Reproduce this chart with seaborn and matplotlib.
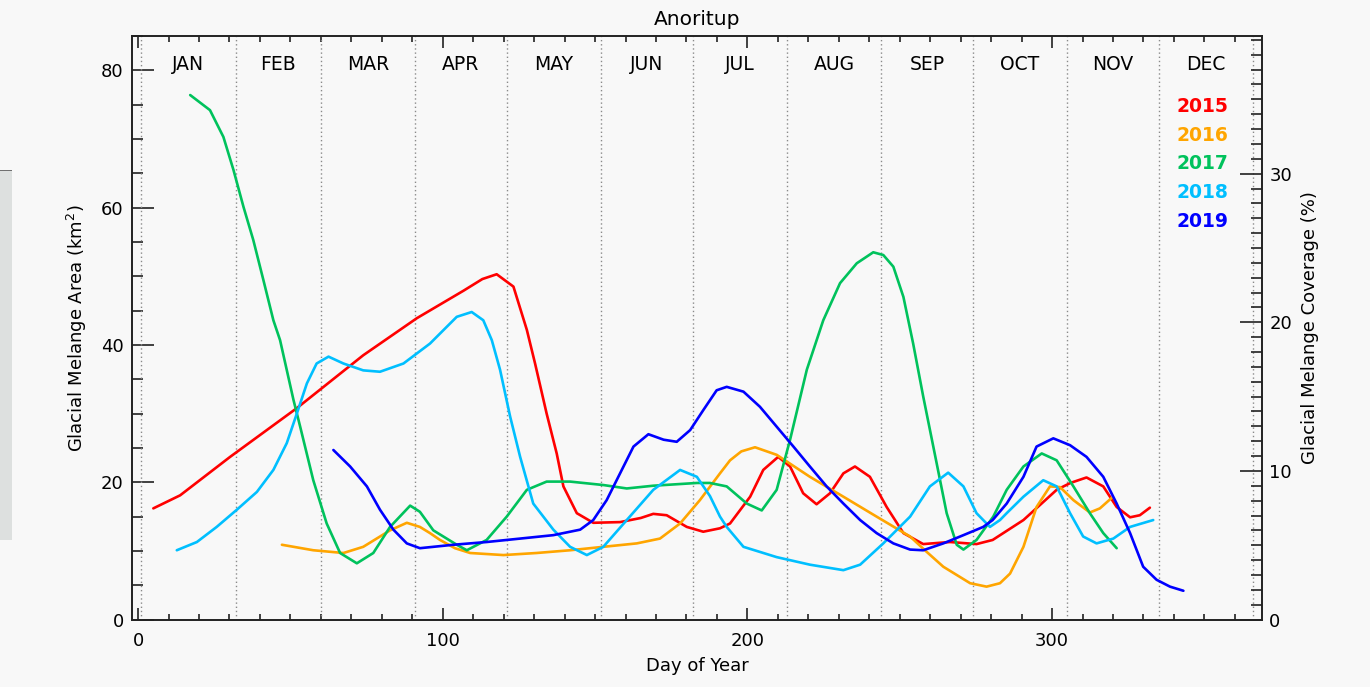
import numpy as np
import pandas as pd
import matplotlib
matplotlib.use("Agg")
import matplotlib.pyplot as plt
import seaborn as sns
from matplotlib.patches import Rectangle
from matplotlib.ticker import MultipleLocator

# ---------------- data ----------------
days_2015 = [5, 13.8, 30.2, 52.1, 73.9, 91.5, 106.8, 113, 117.7, 123.2, 127.6, 130.3, 134.1, 137.4, 139.6,
             144, 149.4, 158.2, 165, 169.1, 173.5, 180.1, 185.5, 191, 194.3, 200.9, 205.2, 210.1, 214,
             218.3, 222.7, 227.1, 231.5, 235.3, 240.2, 245.7, 251.2, 257.7, 266.5, 275.2, 280.5, 290.6,
             301.5, 306, 311.3, 316.8, 321.2, 325.6, 328.8, 332.1]
area_2015 = [16.2, 18.1, 23.7, 30.8, 38.5, 43.9, 47.9, 49.6, 50.3, 48.5, 42.2, 37.3, 30.0, 24.2, 19.4,
             15.5, 14.1, 14.2, 14.8, 15.4, 15.2, 13.5, 12.8, 13.3, 14.0, 17.9, 21.8, 23.7, 22.3,
             18.4, 16.8, 18.4, 21.3, 22.3, 20.8, 16.4, 12.6, 11.0, 11.3, 11.0, 11.6, 14.5,
             18.9, 19.9, 20.7, 19.4, 16.4, 14.9, 15.2, 16.3]

days_2016 = [47.2, 57.5, 67.4, 73.9, 82.7, 88.2, 92.5, 95.8, 99.1, 104, 109, 119.9, 130.8, 141.8, 152.7,
             163.7, 171.3, 177.9, 184.4, 191, 194.3, 198, 202.5, 209.6, 220.5, 231.5, 242.4, 253.4,
             258.5, 264.3, 273.1, 278.5, 282.9, 286.2, 290.6, 294.9, 299.3, 302.6, 307, 312.4, 315.7, 319.5]
area_2016 = [10.9, 10.1, 9.7, 10.6, 13.0, 14.1, 13.5, 12.6, 11.6, 10.4, 9.7, 9.4, 9.7, 10.1, 10.6,
             11.1, 11.8, 14.0, 17.4, 21.3, 23.2, 24.5, 25.1, 24.0, 20.8, 17.9, 15.0, 12.1,
             10.0, 7.7, 5.3, 4.8, 5.3, 6.7, 10.6, 16.4, 19.4, 19.3, 17.4, 15.6, 16.2, 17.7]

days_2017 = [17.1, 23.6, 28, 31.3, 34.6, 37.8, 41.1, 44.4, 46.6, 51, 53.2, 57.5, 61.9, 66.3, 71.8, 77.2,
             82.7, 89.3, 92.5, 96.9, 104.6, 107.9, 114.4, 121, 127.6, 134.1, 141.8, 152.7, 160.4, 169.1,
             183.4, 187.7, 193.2, 199.8, 204.7, 209.6, 214, 219.5, 224.9, 230.4, 235.9, 241.3, 244.6,
             247.9, 251.2, 254.4, 257.7, 262.1, 265.4, 268.7, 270.9, 275.2, 280.7, 285.1, 290.6, 296.6,
             301.5, 307, 312.4, 316.8, 321.2]
area_2017 = [76.4, 74.2, 70.3, 65.5, 60.1, 55.3, 49.5, 43.6, 40.7, 32.0, 28.1, 20.3, 14.0, 9.7, 8.2, 9.7,
             13.5, 16.6, 15.7, 13.0, 10.9, 10.1, 11.6, 15.0, 18.9, 20.1, 20.1, 19.6, 19.1, 19.5,
             19.9, 19.9, 19.4, 16.9, 15.9, 18.9, 26.2, 36.4, 43.6, 49.0, 51.9, 53.5, 53.1,
             51.4, 47.0, 40.2, 32.5, 22.8, 15.5, 10.9, 10.2, 11.6, 15.0, 18.9, 22.3, 24.2,
             23.2, 19.4, 15.5, 12.6, 10.4]

days_2018 = [12.7, 19.3, 25.8, 32.4, 39, 44.4, 48.8, 52.1, 55.4, 58.6, 62.5, 67.4, 73.9, 79.4, 87.1, 95.8,
             104.6, 109.5, 113.3, 116.1, 118.8, 122.1, 125.4, 129.7, 136.3, 141.8, 147.3, 152.7, 160.4,
             169.1, 177.9, 183.4, 187.7, 191, 193.2, 198.7, 209.6, 220.5, 231.5, 237, 244.6, 253.4,
             259.9, 265.9, 270.9, 275.2, 279.6, 282.9, 285.1, 290.6, 297.1, 301.5, 305.9, 310.2, 314.6,
             320.1, 325.6, 333.2]
area_2018 = [10.1, 11.3, 13.5, 16.0, 18.6, 21.8, 25.7, 30.0, 34.4, 37.3, 38.3, 37.3, 36.3, 36.1, 37.3, 40.2,
             44.1, 44.8, 43.6, 40.7, 36.4, 29.6, 23.7, 16.9, 13.1, 10.6, 9.4, 10.6, 14.5,
             18.9, 21.8, 20.8, 18.0, 15.0, 13.5, 10.6, 9.1, 8.0, 7.2, 8.0, 11.1, 15.0,
             19.4, 21.4, 19.4, 15.5, 13.5, 14.5, 15.5, 17.9, 20.3, 19.4, 15.5, 12.1, 11.1,
             11.8, 13.5, 14.5]

days_2019 = [64.1, 69.6, 75.1, 79.4, 83.8, 88.2, 92.5, 103.5, 114.4, 125.4, 136.3, 145.1, 149.4, 153.8,
             158.2, 162.6, 167.5, 172.5, 176.8, 181.2, 185.5, 189.9, 193.2, 198.7, 204.1, 209.6, 215.1,
             220.5, 226, 231.5, 237, 242.4, 247.9, 253.4, 257.7, 264.3, 270.9, 277.4, 280.5, 285.1,
             290.6, 294.9, 300.4, 305.9, 311.3, 316.8, 321.2, 325.6, 329.9, 334.3, 338.7, 343.1]
area_2019 = [24.7, 22.3, 19.4, 16.0, 13.1, 11.1, 10.4, 10.9, 11.3, 11.8, 12.3, 13.1, 14.5, 17.4,
             21.3, 25.2, 27.0, 26.2, 25.9, 27.6, 30.5, 33.4, 33.9, 33.2, 31.0, 28.1, 25.2,
             22.3, 19.4, 16.9, 14.5, 12.6, 11.1, 10.2, 10.1, 11.1, 12.3, 13.5, 14.5, 16.9,
             20.8, 25.2, 26.4, 25.4, 23.7, 20.8, 16.9, 12.6, 7.7, 5.8, 4.8, 4.2]

years = ["2015", "2016", "2017", "2018", "2019"]
year_colors = ["#FF0000", "#FFA500", "#00C25C", "#00BFFF", "#0000FF"]
months = ["JAN", "FEB", "MAR", "APR", "MAY", "JUN", "JUL", "AUG", "SEP", "OCT", "NOV", "DEC"]
month_starts = [1, 32, 60, 91, 121, 152, 182, 213, 244, 274, 305, 335, 366]
fjord_area_km2 = 216.5   # area corresponding to 100 % coverage
title = "Anoritup"

# ---------------- build long-form table ----------------
series_days = [days_2015, days_2016, days_2017, days_2018, days_2019]
series_area = [area_2015, area_2016, area_2017, area_2018, area_2019]
frames = []
for yr, d, a in zip(years, series_days, series_area):
    frames.append(pd.DataFrame({"day": d, "area": a, "year": yr}))
df = pd.concat(frames, ignore_index=True)

# ---------------- style ----------------
sns.set_theme(style="ticks")
plt.rcParams["font.family"] = ["DejaVu Sans"]
plt.rcParams["axes.linewidth"] = 1.2
plt.rcParams["lines.solid_joinstyle"] = "round"
plt.rcParams["lines.solid_capstyle"] = "round"
bg = "#f8f8f8"

W, H = 1370, 687
fig = plt.figure(figsize=(W / 100, H / 100), dpi=100, facecolor=bg)
# screenshot artefacts at the left edge
fig.patches.append(Rectangle((0, 1 - 540 / H), 12 / W, 370 / H, transform=fig.transFigure,
                             facecolor="#dde0df", edgecolor="none", zorder=0))
fig.patches.append(Rectangle((0, 1 - 171 / H), 12 / W, 1.5 / H, transform=fig.transFigure,
                             facecolor="#707070", edgecolor="none", zorder=0))

ax_l, ax_r, ax_t, ax_b = 132, 1262.3, 36, 619.6
ax = fig.add_axes([ax_l / W, 1 - ax_b / H, (ax_r - ax_l) / W, (ax_b - ax_t) / H])
ax.set_facecolor(bg)

sns.lineplot(data=df, x="day", y="area", hue="year", palette=dict(zip(years, year_colors)),
             estimator=None, sort=False, linewidth=1.9, legend=False, ax=ax, zorder=3)
for ln in ax.get_lines():
    ln.set_solid_joinstyle("round")
    ln.set_solid_capstyle("round")

ax.set_xlim(-2, 369)
ax.set_ylim(0, 85)

for m in month_starts:
    ax.axvline(m, color="#8a8a8a", lw=1.0, ls=(0, (1, 2)), zorder=1)
for i, name in enumerate(months):
    mid = (month_starts[i] + month_starts[i + 1]) / 2
    ax.text(mid, 80.8, name, ha="center", va="center", fontsize=13.5, color="black")

leg_y0, leg_dy = 74.8, 4.22
for i, (yr, c) in enumerate(zip(years, year_colors)):
    ax.text(349.5, leg_y0 - i * leg_dy, yr, ha="center", va="center", fontsize=13.5,
            fontweight="bold", color=c)

ax.xaxis.set_major_locator(MultipleLocator(100))
ax.xaxis.set_minor_locator(MultipleLocator(10))
ax.yaxis.set_major_locator(MultipleLocator(20))
ax.yaxis.set_minor_locator(MultipleLocator(5))
ax.tick_params(axis="x", which="both", direction="in", top=True, bottom=True, colors="#222222",
               labelsize=13, width=1.2)
ax.tick_params(axis="x", which="major", length=8.5, pad=9)
ax.tick_params(axis="x", which="minor", length=4.5)
ax.tick_params(axis="y", which="both", direction="in", left=True, right=False, colors="#222222",
               labelsize=13, width=1.2)
ax.tick_params(axis="y", which="major", length=16, pad=6)
ax.tick_params(axis="y", which="minor", length=8)
for lab in ax.get_xticklabels() + ax.get_yticklabels():
    lab.set_color("black")

ax.set_xlabel("Day of Year", fontsize=13, color="black", labelpad=5)
ax.set_ylabel(r"Glacial Melange Area (km$^{2}$)", fontsize=13, color="black", va="center")
ax.yaxis.set_label_coords(-0.049, 0.5)
ax.set_title(title, fontsize=14.5, color="black", pad=8)

for s in ax.spines.values():
    s.set_color("#222222")
    s.set_linewidth(1.2)

ax2 = ax.twinx()
ax2.set_ylim(0, 85 * 100 / fjord_area_km2)
ax2.yaxis.set_major_locator(MultipleLocator(10))
ax2.yaxis.set_minor_locator(MultipleLocator(1))
ax2.tick_params(axis="y", which="both", direction="in", right=True, left=False, colors="#222222",
                labelsize=13, width=1.2)
ax2.tick_params(axis="y", which="major", length=16, pad=5)
ax2.tick_params(axis="y", which="minor", length=8)
for lab in ax2.get_yticklabels():
    lab.set_color("black")
ax2.set_ylabel("Glacial Melange Coverage (%)", fontsize=13, color="black", va="center", rotation=90)
ax2.yaxis.set_label_coords(1.042, 0.5)
for s in ax2.spines.values():
    s.set_color("#222222")
    s.set_linewidth(1.2)

fig.savefig("out.png", dpi=100, facecolor=bg)
